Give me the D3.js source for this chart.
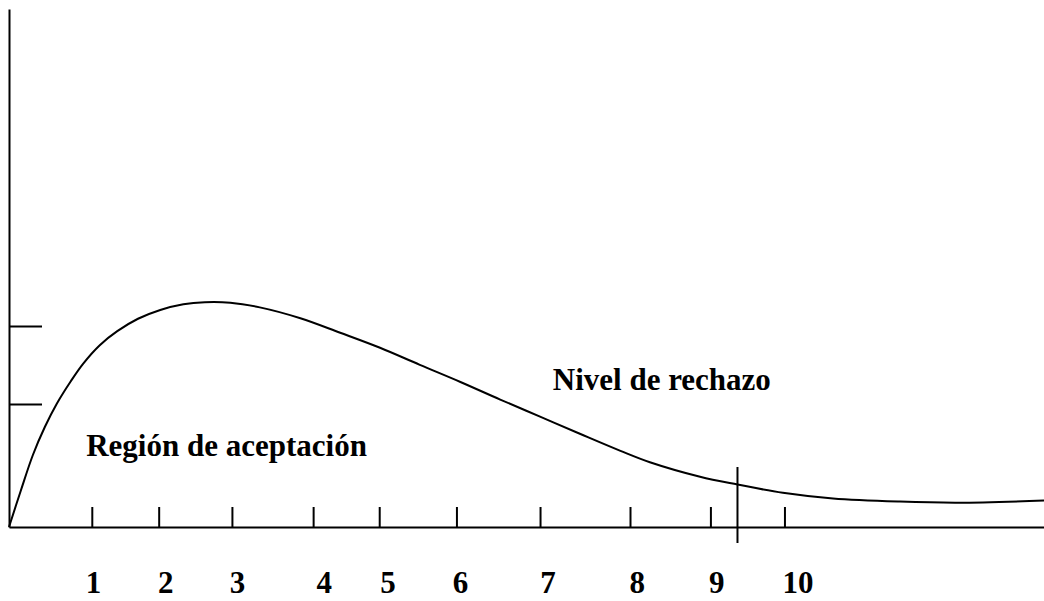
<!DOCTYPE html>
<html>
<head>
<meta charset="utf-8">
<script src="https://cdn.jsdelivr.net/npm/d3@7"></script>
<style>
  body { margin: 0; background: #fff; }
  svg { display: block; }
  .axis path, .axis line { stroke: #000; stroke-width: 2; }
  .lbl { font-family: "Liberation Serif", "Times New Roman", serif; font-weight: bold; font-size: 31px; fill: #000; }
</style>
</head>
<body>
<svg width="1044" height="601"></svg>
<script>

// curve (x in units, y in density units)
let curveX = [0, 0.15, 0.30, 0.45, 0.60, 0.77, 0.93, 1.14, 1.36, 1.62, 1.90, 2.19, 2.46, 2.78, 3.15, 3.66, 4.16, 4.66, 5.16, 5.67, 6.17, 6.67, 7.17, 7.68, 8.05, 8.68, 9.15, 9.72, 10.35, 11.19, 11.92, 13.0];
let curveY = [0, 0.071, 0.139, 0.193, 0.238, 0.280, 0.315, 0.351, 0.378, 0.402, 0.419, 0.430, 0.434, 0.433, 0.424, 0.403, 0.375, 0.346, 0.313, 0.280, 0.246, 0.213, 0.180, 0.147, 0.125, 0.097, 0.082, 0.066, 0.055, 0.049, 0.047, 0.051];

// tick marks on the x axis and where their numbers sit
let tickVals = [1.04, 1.88, 2.80, 3.82, 4.65, 5.62, 6.67, 7.80, 8.81, 9.74];
let labelVals = [1.06, 1.97, 2.87, 3.96, 4.76, 5.67, 6.77, 7.89, 8.89, 9.91];
let labelText = ["1", "2", "3", "4", "5", "6", "7", "8", "9", "10"];

let yTicks = [0.2375, 0.388];
let critical = 9.15;

let notes = [
  { text: "Región de aceptación", x: 0.97, y: 0.137 },
  { text: "Nivel de rechazo", x: 6.83, y: 0.264 }
];

var svg = d3.select("svg");

var x = d3.scaleLinear().domain([0, 13]).range([9, 1044]),
    y = d3.scaleLinear().domain([0, 1]).range([527, 9]);

// x axis, ticks pointing up
svg.append("g")
    .attr("class", "axis")
    .attr("transform", "translate(0," + y(0) + ")")
    .call(d3.axisBottom(x).tickValues(tickVals).tickSize(-20).tickSizeOuter(0).tickFormat(""));

// y axis, ticks pointing right
svg.append("g")
    .attr("class", "axis")
    .attr("transform", "translate(" + x(0) + ",0)")
    .call(d3.axisRight(y).tickValues(yTicks).tickSize(33).tickSizeOuter(0).tickFormat(""));

svg.selectAll(".axis text").remove();

// numbers under the axis
svg.selectAll(".num")
  .data(labelVals)
  .enter().append("text")
    .attr("class", "lbl num")
    .attr("x", function(d) { return x(d); })
    .attr("y", y(0) + 66)
    .attr("text-anchor", "middle")
    .text(function(d, i) { return labelText[i]; });

// density curve
var pts = curveX.map(function(d, i) { return [d, curveY[i]]; });
var line = d3.line()
    .x(function(d) { return x(d[0]); })
    .y(function(d) { return y(d[1]); })
    .curve(d3.curveCatmullRom.alpha(0.5));

svg.append("path")
    .datum(pts)
    .attr("d", line)
    .attr("fill", "none")
    .attr("stroke", "#000")
    .attr("stroke-width", 2);

// critical value marker
svg.append("line")
    .attr("x1", x(critical)).attr("x2", x(critical))
    .attr("y1", y(0) - 60).attr("y2", y(0) + 16)
    .attr("stroke", "#000")
    .attr("stroke-width", 2);

svg.selectAll(".note")
  .data(notes)
  .enter().append("text")
    .attr("class", "lbl note")
    .attr("x", function(d) { return x(d.x); })
    .attr("y", function(d) { return y(d.y); })
    .text(function(d) { return d.text; });

</script>
</body>
</html>
